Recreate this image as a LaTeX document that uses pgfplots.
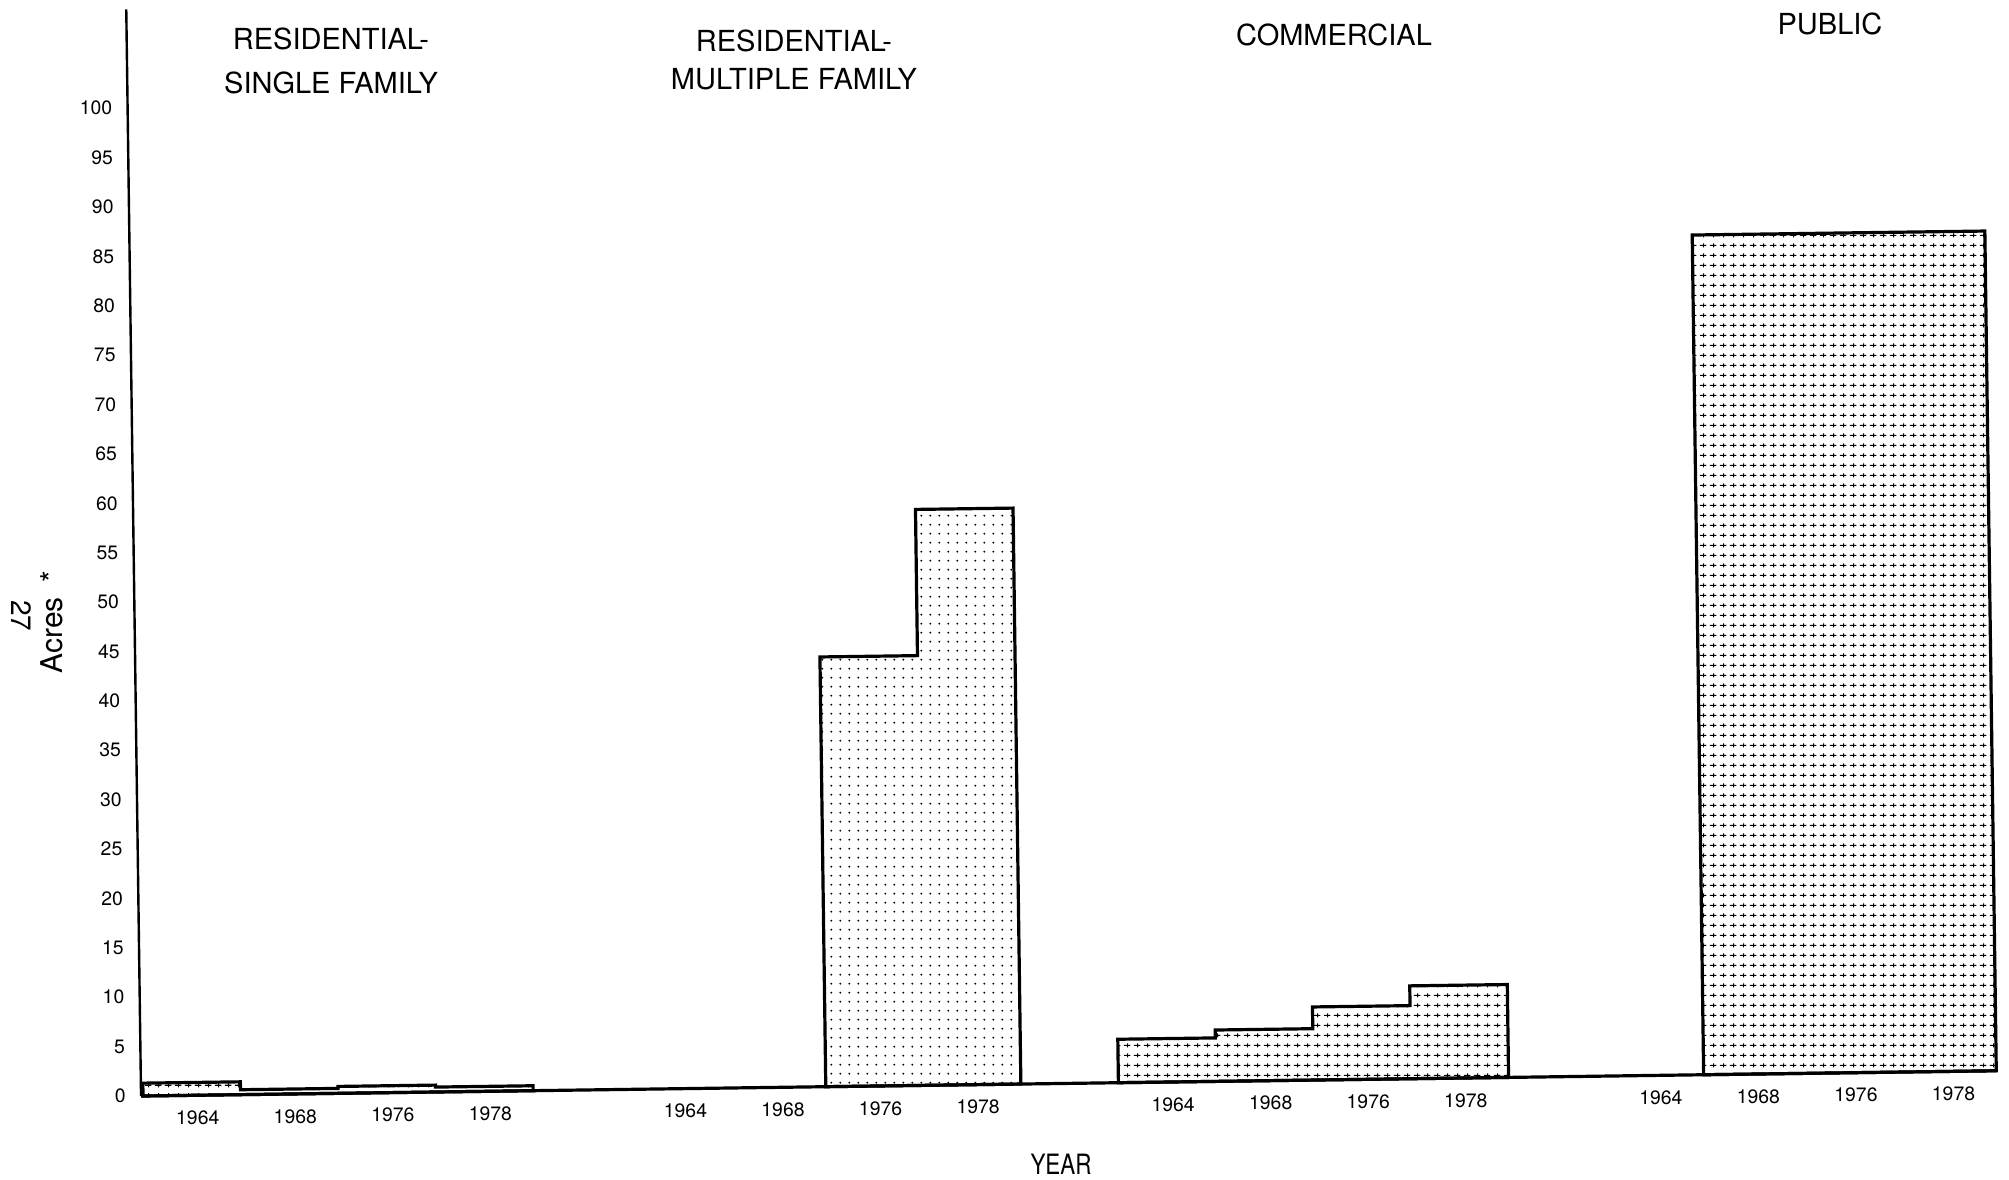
\documentclass[border=0pt]{standalone}
\usepackage{fontspec}
\setmainfont{TeX Gyre Heros}
\usepackage{pgfplots}
\pgfplotsset{compat=1.18}
\usetikzlibrary{patterns}

\pgfdeclarepatternformonly{mfdots}{\pgfpointorigin}{\pgfqpoint{4.65pt}{4.65pt}}{\pgfqpoint{4.65pt}{4.65pt}}{%
  \pgfpathcircle{\pgfqpoint{2.3pt}{2.3pt}}{0.55pt}\pgfusepath{fill}}
\pgfdeclarepatternformonly{gridd}{\pgfpointorigin}{\pgfqpoint{4.8pt}{5pt}}{\pgfqpoint{4.8pt}{5pt}}{%
  \pgfsetlinewidth{0.55pt}%
  \pgfpathmoveto{\pgfqpoint{0.4pt}{2.5pt}}\pgfpathlineto{\pgfqpoint{3.8pt}{2.5pt}}\pgfusepath{stroke}%
  \pgfsetlinewidth{0.4pt}%
  \pgfpathmoveto{\pgfqpoint{2.4pt}{1.4pt}}\pgfpathlineto{\pgfqpoint{2.4pt}{3.6pt}}\pgfusepath{stroke}}

\begin{document}
\begin{tikzpicture}
\useasboundingbox (0pt,0pt) rectangle (1004.5pt,589.5pt);
\begin{axis}[
  at={(71.5pt,41.5pt)}, anchor=origin,
  x={(48.770pt,0.664pt)}, y={(-0.0672pt,4.9395pt)},
  xmin=-0.02, xmax=19, ymin=0, ymax=110,
  axis x line*=bottom, axis y line*=left,
  x axis line style={line width=1.6pt},
  y axis line style={line width=1.2pt},
  clip=false,
  major tick length=0pt,
  /pgf/number format/assume math mode=true,
  ytick={0,5,...,100},
  xtick={0.5,1.5,2.5,3.5,5.5,6.5,7.5,8.5,10.5,11.5,12.5,13.5,15.5,16.5,17.5,18.5},
  xticklabels={1964,1968,1976,1978,1964,1968,1976,1978,1964,1968,1976,1978,1964,1968,1976,1978},
  tick label style={font=\fontsize{9.7}{11}\selectfont, inner sep=0pt},
  yticklabel style={anchor=east, xshift=-7.5pt},
  xticklabel style={anchor=north, yshift=-7.5pt, xshift=3pt},
  every axis plot/.append style={draw=black, line width=1.6pt, line join=miter, pattern color=black, mark=none},
]
% Residential - single family: 1964 1.3, 1968 0.5, 1976 0.7, 1978 0.5
\addplot[pattern=gridd]
  coordinates {(0,0) (0,1.3) (1,1.3) (1,0.5) (2,0.5) (2,0.7) (3,0.7) (3,0.5) (4,0.5) (4,0)} -- cycle;
% Residential - multiple family: 1964 0, 1968 0, 1976 43.5, 1978 58.3
\addplot[pattern=mfdots]
  coordinates {(7,0) (7,43.5) (8,43.5) (8,58.3) (9,58.3) (9,0)} -- cycle;
% Commercial: 1964 4.4, 1968 5.2, 1976 7.4, 1978 9.4
\addplot[pattern=gridd]
  coordinates {(10,0) (10,4.4) (11,4.4) (11,5.2) (12,5.2) (12,7.4) (13,7.4) (13,9.4) (14,9.4) (14,0)} -- cycle;
% Public: 1964 0, 1968-1978 85
\addplot[pattern=gridd]
  coordinates {(16,0) (16,85.0) (17,85.0) (18,85.0) (19,85.0) (19,0)} -- cycle;
\end{axis}
\begin{scope}[every node/.style={font=\fontsize{14.5}{16}\selectfont, inner sep=0pt, anchor=base}]
\node at (165.5pt,564.5pt) {RESIDENTIAL-};
\node at (165.5pt,542.5pt) {SINGLE FAMILY};
\node at (397pt,563.5pt) {RESIDENTIAL-};
\node at (397pt,544.5pt) {MULTIPLE FAMILY};
\node at (667pt,566.5pt) {COMMERCIAL};
\node at (915pt,572pt) {PUBLIC};
\node[font=\fontsize{14}{16}\selectfont] at (530.5pt,2.5pt) {\scalebox{0.8}[1]{YEAR}};
\node[rotate=90, font=\fontsize{15}{17}\selectfont] at (31pt,278.5pt) {Acres\hspace{0.5em}*};
\node[rotate=-90, font=\fontsize{14}{16}\selectfont] at (6pt,281.5pt) {27};
\end{scope}
\end{tikzpicture}
\end{document}
